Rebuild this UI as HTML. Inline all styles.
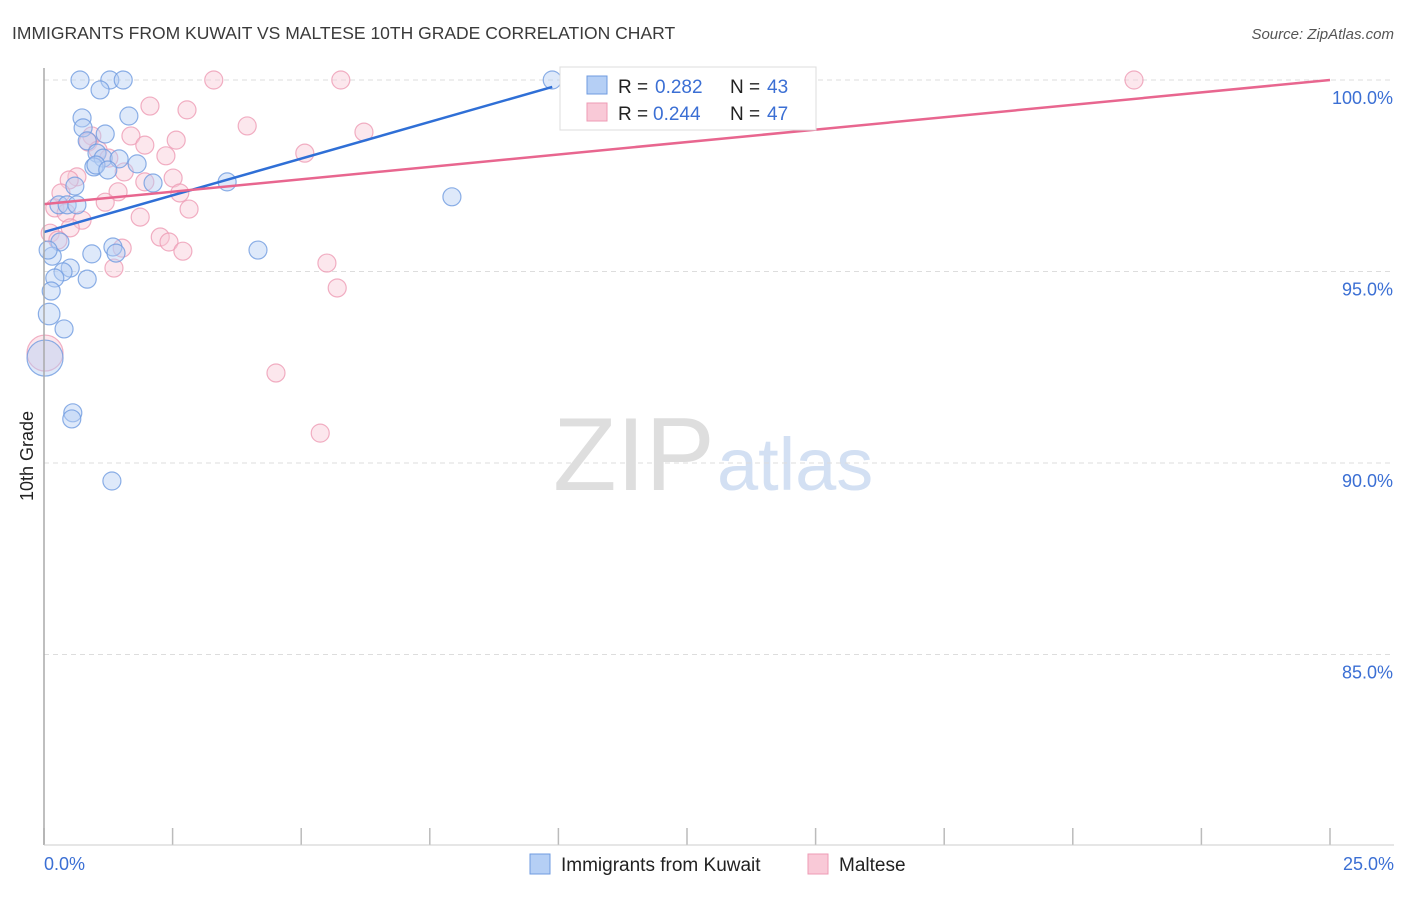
<!DOCTYPE html>
<html><head><meta charset="utf-8"><style>
body{margin:0;background:#fff;font-family:"Liberation Sans",sans-serif}
svg text{font-family:"Liberation Sans",sans-serif}
</style></head><body>
<svg id="c" width="1406" height="892" xmlns="http://www.w3.org/2000/svg">
<text x="12" y="39" font-size="17.5" fill="#3a3a3a">IMMIGRANTS FROM KUWAIT VS MALTESE 10TH GRADE CORRELATION CHART</text>
<text x="1394" y="39" font-size="15" fill="#555" font-style="italic" text-anchor="end">Source: ZipAtlas.com</text>
<text transform="translate(33,456) rotate(-90)" font-size="18" fill="#222" text-anchor="middle">10th Grade</text>
<g>
<text x="553" y="490" font-size="104" font-family="Liberation Serif" fill="#dedede">ZIP</text>
<text x="717" y="490" font-size="74" fill="#d3e0f3">atlas</text>
</g>
<g id="grid"></g><g id="marks"></g><g id="lines"></g>
<line x1="44" y1="68" x2="44" y2="845" stroke="#aaa" stroke-width="1.5"/>
<line x1="44" y1="845" x2="1394" y2="845" stroke="#ccc" stroke-width="1"/>
<text x="44" y="870" font-size="18" fill="#3b6fd4">0.0%</text>
<text x="1394" y="870" font-size="18" fill="#3b6fd4" text-anchor="end">25.0%</text>
<g>
<rect x="560" y="67" width="256" height="63" fill="#fff" stroke="#ddd"/>
<rect x="587" y="76" width="20" height="18" fill="#b5cff5" stroke="#6f9be0"/>
<text x="618" y="93" font-size="19" fill="#222">R =</text>
<text x="655" y="93" font-size="19" fill="#3b6fd4">0.282</text>
<text x="730" y="93" font-size="19" fill="#222">N =</text>
<text x="767" y="93" font-size="19" fill="#3b6fd4">43</text>
<rect x="587" y="103" width="20" height="18" fill="#f9c9d7" stroke="#ee9bb4"/>
<text x="618" y="120" font-size="19" fill="#222">R =</text>
<text x="653" y="120" font-size="19" fill="#3b6fd4">0.244</text>
<text x="730" y="120" font-size="19" fill="#222">N =</text>
<text x="767" y="120" font-size="19" fill="#3b6fd4">47</text>
</g>
<g>
<rect x="530" y="854" width="20" height="20" fill="#b5cff5" stroke="#6f9be0"/>
<text x="561" y="871" font-size="19" fill="#222">Immigrants from Kuwait</text>
<rect x="808" y="854" width="20" height="20" fill="#f9c9d7" stroke="#ee9bb4"/>
<text x="839" y="871" font-size="19" fill="#222">Maltese</text>
</g>
</svg>
<script>
const yTicks=[100,95,90,85];
const yTickLabels=["100.0%","95.0%","90.0%","85.0%"];
const xTicks=[0,2.5,5,7.5,10,12.5,15,17.5,20,22.5,25];
const kuwaitX=[0.70,1.28,1.54,9.88,1.09,1.65,0.74,0.76,1.19,0.84,1.03,1.15,1.46,1.81,0.97,1.01,1.24,2.12,3.56,0.60,7.93,0.29,0.45,0.64,0.31,1.34,4.16,1.40,0.93,0.16,0.51,0.37,0.21,0.84,0.14,0.10,0.39,0.02,0.56,0.54,1.32,0.08];
const kuwaitY=[100,100,100,100,99.74,99.06,99.01,98.75,98.59,98.41,98.09,97.96,97.94,97.81,97.73,97.78,97.65,97.31,97.34,97.23,96.95,96.74,96.74,96.74,95.77,95.64,95.56,95.48,95.46,95.40,95.09,94.99,94.83,94.80,94.49,93.89,93.50,92.74,91.31,91.15,89.53,95.56];
const kuwaitSize=[1,1,1,1,1,1,1,1,1,1,1,1,1,1,1,1,1,1,1,1,1,1,1,1,1,1,1,1,1,1,1,1,1,1,1,1.2,1,2,1,1,1,1];
const malteseX=[3.30,5.77,21.19,2.06,2.78,3.95,6.22,1.69,0.93,2.57,0.86,1.96,1.05,5.07,2.37,1.26,1.56,2.51,1.96,0.64,0.49,1.44,0.33,2.64,1.19,2.82,0.21,0.43,1.87,0.74,0.51,0.12,2.26,2.43,0.27,1.52,2.70,5.50,1.36,5.70,4.51,5.37,0.02];
const malteseY=[100,100,100,99.32,99.22,98.80,98.64,98.54,98.54,98.43,98.38,98.30,98.17,98.09,98.02,97.96,97.60,97.44,97.34,97.47,97.39,97.08,97.05,97.05,96.81,96.63,96.66,96.53,96.42,96.34,96.14,96.00,95.90,95.77,95.82,95.61,95.53,95.22,95.09,94.57,92.35,90.78,92.87];
const malteseSize=[1,1,1,1,1,1,1,1,1,1,1,1,1,1,1,1,1,1,1,1,1,1,1,1,1,1,1,1,1,1,1,1,1,1,1,1,1,1,1,1,1,1,2];
const kuwaitTrend=[0,96.03,9.88,99.82];
const malteseTrend=[0,96.76,25,100];
const NS="http://www.w3.org/2000/svg";
const sx=v=>44+v/25*1286;
const sy=v=>80+(100-v)*38.3;
function mk(t,a,p){const e=document.createElementNS(NS,t);for(const k in a)e.setAttribute(k,a[k]);p.appendChild(e);return e;}
const grid=document.getElementById('grid'),marks=document.getElementById('marks'),lines=document.getElementById('lines');
yTicks.forEach((t,i)=>{
 const g=mk('line',{x1:44,x2:1394,y1:sy(t),y2:sy(t),stroke:'#ddd','stroke-dasharray':'5,4'},grid);
 
 
 const l=mk('text',{x:1393,y:sy(t)+24,'font-size':18,fill:'#3b6fd4','text-anchor':'end'},grid);
 l.textContent=yTickLabels[i];
 
 
});
xTicks.forEach(t=>{
 const k=mk('line',{x1:sx(t),x2:sx(t),y1:828,y2:845,stroke:'#bbb','stroke-width':1.5},grid);
 
 
});
function pts(X,Y,S,fill,stroke,name){
 X.forEach((x,i)=>{
  const c=mk('circle',{cx:sx(x),cy:sy(Y[i]),r:9*S[i],fill:fill,'fill-opacity':0.45,stroke:stroke,'stroke-opacity':0.8,'stroke-width':1.2},marks);
  
  
 });
}
pts(malteseX,malteseY,malteseSize,'#f9c9d7','#ee9bb4','maltese-point');
pts(kuwaitX,kuwaitY,kuwaitSize,'#b5cff5','#6f9be0','kuwait-point');
const bl=mk('line',{x1:sx(kuwaitTrend[0]),y1:sy(kuwaitTrend[1]),x2:sx(kuwaitTrend[2]),y2:sy(kuwaitTrend[3]),stroke:'#2f6fd6','stroke-width':2.5},lines);


const pl=mk('line',{x1:sx(malteseTrend[0]),y1:sy(malteseTrend[1]),x2:sx(malteseTrend[2]),y2:sy(malteseTrend[3]),stroke:'#e8668f','stroke-width':2.5},lines);


</script>
</body></html>
